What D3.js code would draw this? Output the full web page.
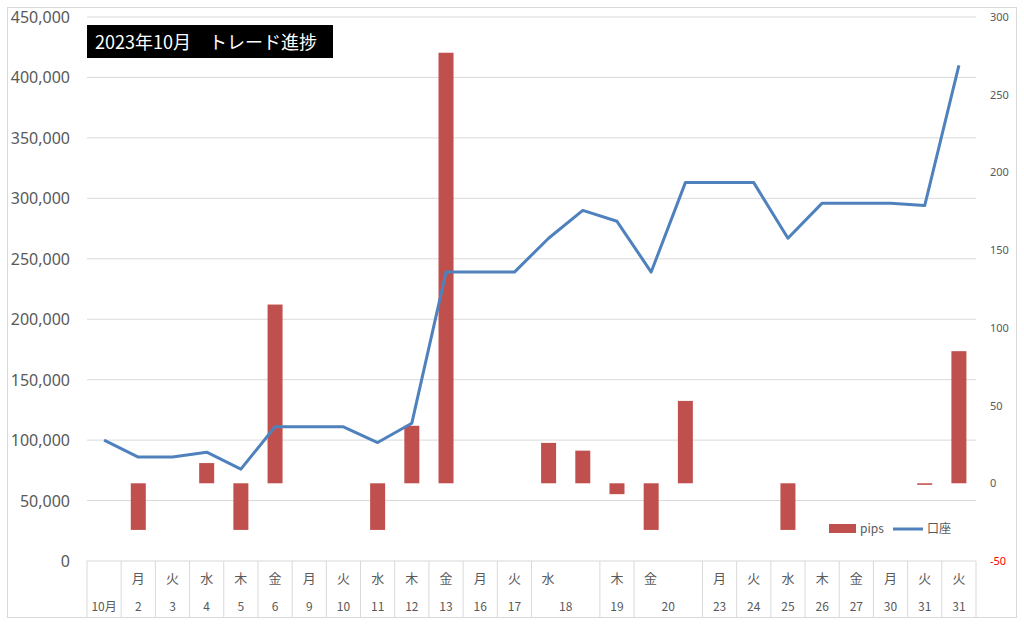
<!DOCTYPE html>
<html lang="ja">
<head>
<meta charset="UTF-8">
<script src="https://d3js.org/d3.v7.min.js"></script>
<style>
  body { margin: 0; background: #fff; font-family: "Noto Sans CJK JP", "Noto Sans", sans-serif; }
</style>
</head>
<body>
<svg id="chart" width="1024" height="626"></svg>
<script>
// categories (key, weekday, day label, group id for merged cells)
const keys     = ["m", "2","3","4","5","6","9","10","11","12","13","16","17","18a","18b","19","20a","20b","23","24","25","26","27","30","31a","31b"];
const weekdays = ["", "月","火","水","木","金","月","火","水","木","金","月","火","水","","木","金","","月","火","水","木","金","月","火","火"];
const dayLabels= ["10月","2","3","4","5","6","9","10","11","12","13","16","17","18","","19","20","","23","24","25","26","27","30","31","31"];
const span     = [1,1,1,1,1,1,1,1,1,1,1,1,1,2,0,1,2,0,1,1,1,1,1,1,1,1];
// 口座 (left axis)
const account  = [100000,86000,86000,90000,76000,111000,111000,111000,98000,114000,239000,239000,239000,267000,290000,281000,239000,313000,313000,313000,267000,296000,296000,296000,294000,410000];
// pips (right axis), null = no bar
const pips     = [null,-30,null,13,-30,115,null,null,-30,37,277,null,null,26,21,-7,-30,53,null,null,-30,null,null,null,-1,85];
const leftTicks  = d3.range(0, 450001, 50000);
const rightTicks = d3.range(-50, 301, 50);

const svg = d3.select("#chart");
const L = 87, R = 976, T = 17, B = 561;

svg.append("rect").attr("x", 7.5).attr("y", 7.5).attr("width", 1009).attr("height", 610)
  .attr("fill", "#fff").attr("stroke", "#d9d9d9");

const x = d3.scaleBand().domain(keys).range([L, R]);
const yL = d3.scaleLinear().domain([0, 450000]).range([B, T]);
const yR = d3.scaleLinear().domain([-50, 300]).range([B, T]);

// grid
svg.append("g").selectAll("line").data(leftTicks.slice(1)).join("line")
  .attr("x1", L).attr("x2", R).attr("y1", d => yL(d)).attr("y2", d => yL(d))
  .attr("stroke", "#d9d9d9");

// left axis labels
svg.append("g").selectAll("text").data(leftTicks).join("text")
  .attr("x", 70).attr("y", d => yL(d) + 6).attr("text-anchor", "end")
  .attr("font-size", 16).attr("fill", "#595959").attr("font-family", "Noto Sans, sans-serif")
  .text(d => d3.format(",")(d));

// right axis labels
svg.append("g").selectAll("text").data(rightTicks).join("text")
  .attr("x", 990).attr("y", d => yR(d) + 4).attr("text-anchor", "start")
  .attr("font-size", 11).attr("fill", d => d < 0 ? "#ff0000" : "#595959")
  .attr("font-family", "Noto Sans, sans-serif")
  .text(d => d);

// bars
const bw = 15;
svg.append("g").selectAll("rect").data(keys.map((k, i) => ({k, v: pips[i]})).filter(d => d.v !== null)).join("rect")
  .attr("x", d => x(d.k) + x.bandwidth() / 2 - bw / 2).attr("width", bw)
  .attr("y", d => yR(Math.max(0, d.v))).attr("height", d => Math.max(1.5, Math.abs(yR(d.v) - yR(0))))
  .attr("fill", "#C0504D");

// line
svg.append("path").datum(keys.map((k, i) => ({k, v: account[i]})))
  .attr("fill", "none").attr("stroke", "#4F81BD").attr("stroke-width", 3).attr("stroke-linejoin", "round")
  .attr("d", d3.line().x(d => x(d.k) + x.bandwidth() / 2).y(d => yL(d.v)));

// category table
const tab = svg.append("g");
const bounds = [];
keys.forEach((k, i) => { if (span[i] > 0) bounds.push(x(k)); });
bounds.push(R);
tab.selectAll("line.v").data(bounds).join("line").attr("class", "v")
  .attr("x1", d => d).attr("x2", d => d).attr("y1", B).attr("y2", 617).attr("stroke", "#d9d9d9");
tab.append("line").attr("x1", L).attr("x2", R).attr("y1", B).attr("y2", B).attr("stroke", "#d9d9d9");
keys.forEach((k, i) => {
  if (span[i] === 0) return;
  const w = x.bandwidth() * span[i];
  const cx = x(k) + w / 2;
  if (span[i] === 2) {
    tab.append("text").attr("x", x(k) + 10).attr("y", 583).attr("font-size", 13).attr("fill", "#595959").text(weekdays[i]);
  } else if (weekdays[i]) {
    tab.append("text").attr("x", cx).attr("y", 583).attr("text-anchor", "middle").attr("font-size", 13).attr("fill", "#595959").text(weekdays[i]);
  }
  tab.append("text").attr("x", cx).attr("y", 611).attr("text-anchor", "middle").attr("font-size", 12).attr("fill", "#595959").text(dayLabels[i]);
});

// title
svg.append("rect").attr("x", 87).attr("y", 25).attr("width", 246).attr("height", 33).attr("fill", "#000");
svg.append("text").attr("x", 95).attr("y", 49).attr("font-size", 18).attr("fill", "#fff").text("2023年10月　トレード進捗");

// legend
const lg = svg.append("g");
lg.append("rect").attr("x", 829).attr("y", 524).attr("width", 27).attr("height", 9).attr("fill", "#C0504D");
lg.append("text").attr("x", 860).attr("y", 533).attr("font-size", 12).attr("fill", "#595959").text("pips");
lg.append("line").attr("x1", 893).attr("x2", 923).attr("y1", 529).attr("y2", 529).attr("stroke", "#4F81BD").attr("stroke-width", 3);
lg.append("text").attr("x", 927).attr("y", 533).attr("font-size", 12).attr("fill", "#595959").text("口座");
</script>
</body>
</html>
